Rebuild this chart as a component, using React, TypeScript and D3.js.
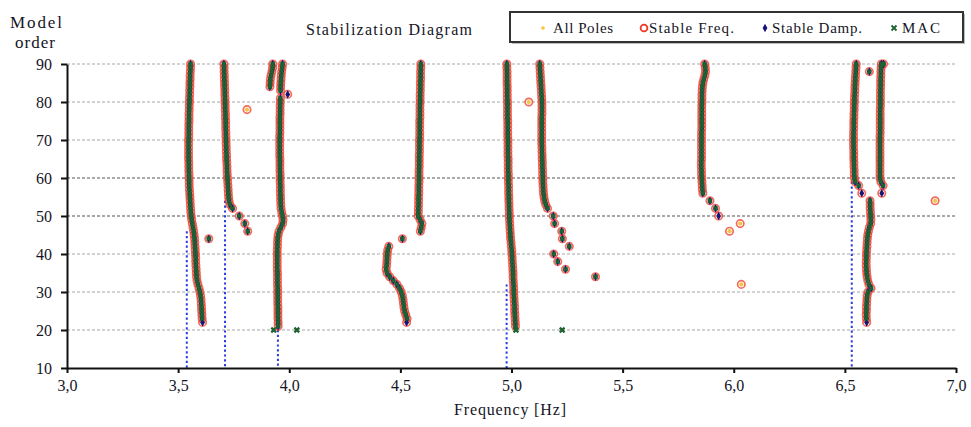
import React, { useEffect, useRef } from 'react';
import * as d3 from 'd3';

const W = 971;
const H = 427;

const xTicks = [3.0, 3.5, 4.0, 4.5, 5.0, 5.5, 6.0, 6.5, 7.0];
const yTicks = [10, 20, 30, 40, 50, 60, 70, 80, 90];

// stable poles (freq + damp + MAC), one value per model order, listed from the top order down
const colA = [
  3.556, 3.556, 3.555, 3.554, 3.554, 3.553, 3.553, 3.552, 3.552, 3.551,
  3.551, 3.550, 3.550, 3.549, 3.549, 3.549, 3.548, 3.548, 3.548, 3.548,
  3.547, 3.547, 3.547, 3.547, 3.547, 3.547, 3.548, 3.548, 3.548, 3.549,
  3.549, 3.550, 3.550, 3.551, 3.552, 3.553, 3.554, 3.555, 3.556, 3.557,
  3.559, 3.561, 3.564, 3.567, 3.570, 3.572, 3.574, 3.575, 3.576, 3.577,
  3.578, 3.579, 3.579, 3.580, 3.581, 3.582, 3.583, 3.585, 3.589, 3.594,
  3.598, 3.601, 3.603, 3.604, 3.605, 3.606, 3.607, 3.608,
];
const colB = [
  3.706, 3.707, 3.707, 3.708, 3.708, 3.709, 3.709, 3.710, 3.710, 3.711,
  3.711, 3.712, 3.712, 3.713, 3.713, 3.714, 3.714, 3.714, 3.715, 3.715,
  3.716, 3.716, 3.717, 3.717, 3.718, 3.718, 3.719, 3.720, 3.720, 3.721,
  3.722, 3.723, 3.724, 3.725, 3.726, 3.727, 3.729, 3.733,
];
const colC1 = [3.926, 3.925, 3.922, 3.918, 3.915, 3.914, 3.913];
const colC2 = [3.970, 3.968, 3.966, 3.964, 3.963, 3.962, 3.961, 3.961];
const colC3 = [
  3.960, 3.960, 3.959, 3.959, 3.959, 3.958, 3.958, 3.958, 3.958, 3.958,
  3.957, 3.957, 3.957, 3.957, 3.957, 3.957, 3.958, 3.958, 3.958, 3.958,
  3.959, 3.959, 3.959, 3.960, 3.960, 3.960, 3.961, 3.961, 3.962, 3.963,
  3.966, 3.970, 3.972, 3.970, 3.962, 3.954, 3.950, 3.948, 3.947, 3.947,
  3.946, 3.946, 3.946, 3.946, 3.946, 3.946, 3.947, 3.947, 3.947, 3.947,
  3.948, 3.948, 3.948, 3.948, 3.948, 3.949, 3.949, 3.949, 3.949, 3.950,
  3.950,
];
const colD = [
  4.592, 4.592, 4.591, 4.591, 4.591, 4.590, 4.590, 4.590, 4.589, 4.589,
  4.589, 4.588, 4.588, 4.588, 4.588, 4.587, 4.587, 4.587, 4.587, 4.587,
  4.586, 4.586, 4.586, 4.586, 4.585, 4.585, 4.585, 4.585, 4.584, 4.584,
  4.584, 4.584, 4.583, 4.583, 4.583, 4.582, 4.582, 4.582, 4.581, 4.581,
  4.580, 4.589, 4.597, 4.594, 4.590,
];
const colE = [
  4.448, 4.443, 4.441, 4.440, 4.439, 4.438, 4.436, 4.440, 4.452, 4.468,
  4.484, 4.496, 4.504, 4.509, 4.512, 4.514, 4.516, 4.519, 4.524, 4.530,
];
const colF = [
  4.979, 4.979, 4.980, 4.980, 4.980, 4.980, 4.981, 4.981, 4.981, 4.981,
  4.982, 4.982, 4.982, 4.982, 4.982, 4.983, 4.983, 4.983, 4.983, 4.983,
  4.984, 4.984, 4.984, 4.984, 4.984, 4.985, 4.985, 4.985, 4.985, 4.986,
  4.986, 4.986, 4.987, 4.987, 4.987, 4.988, 4.988, 4.989, 4.989, 4.990,
  4.990, 4.991, 4.992, 4.993, 4.994, 4.995, 4.996, 4.998, 4.999, 5.001,
  5.002, 5.003, 5.004, 5.005, 5.006, 5.007, 5.007, 5.008, 5.009, 5.010,
  5.010, 5.011, 5.012, 5.013, 5.014, 5.014, 5.015, 5.016, 5.017, 5.018,
];
const colG = [
  5.127, 5.128, 5.129, 5.130, 5.131, 5.132, 5.133, 5.134, 5.135, 5.136,
  5.137, 5.137, 5.137, 5.137, 5.136, 5.136, 5.136, 5.136, 5.136, 5.136,
  5.136, 5.136, 5.137, 5.137, 5.138, 5.138, 5.139, 5.139, 5.140, 5.140,
  5.141, 5.141, 5.142, 5.143, 5.144, 5.146, 5.149, 5.154,
];
const colH = [
  5.869, 5.872, 5.873, 5.870, 5.865, 5.861, 5.859, 5.858, 5.857, 5.857,
  5.857, 5.856, 5.856, 5.856, 5.856, 5.856, 5.856, 5.856, 5.855, 5.855,
  5.855, 5.855, 5.855, 5.855, 5.855, 5.855, 5.854, 5.854, 5.855, 5.855,
  5.856, 5.857, 5.858, 5.859, 5.861,
];
const colI1 = [
  6.551, 6.550, 6.549, 6.548, 6.547, 6.546, 6.545, 6.545, 6.544, 6.543,
  6.543, 6.542, 6.542, 6.541, 6.541, 6.540, 6.540, 6.540, 6.539, 6.539,
  6.539, 6.539, 6.539, 6.540, 6.540, 6.540, 6.541, 6.541, 6.542, 6.542,
  6.543, 6.546,
];
const colI2 = [
  6.613, 6.614, 6.614, 6.615, 6.616, 6.617, 6.616, 6.610, 6.606, 6.603,
  6.601, 6.600, 6.599, 6.598, 6.597, 6.597, 6.596, 6.596, 6.597, 6.598,
  6.600, 6.603, 6.608, 6.618, 6.604, 6.600, 6.599, 6.598, 6.597, 6.597,
  6.596, 6.597,
];
const colJ = [
  6.664, 6.663, 6.662, 6.662, 6.661, 6.661, 6.661, 6.660, 6.660, 6.660,
  6.660, 6.660, 6.659, 6.659, 6.659, 6.659, 6.659, 6.659, 6.659, 6.658,
  6.658, 6.658, 6.658, 6.658, 6.658, 6.658, 6.658, 6.658, 6.658, 6.658,
  6.658, 6.662,
];

// top model order of each column above
const columnTops = [90, 90, 90, 90, 81, 90, 42, 90, 90, 90, 90, 54, 90];
const columnFreqs = [colA, colB, colC1, colC2, colC3, colD, colE, colF, colG, colH, colI1, colI2, colJ];

// other fully stable poles [order, freq]
const stableExtra: [number, number][] = [
  [44, 3.638], [52, 3.745], [50, 3.775], [48, 3.800], [46, 3.813], [44, 4.509],
  [52, 5.162], [50, 5.188], [48, 5.194], [46, 5.226], [44, 5.229], [42, 5.260],
  [40, 5.190], [38, 5.208], [36, 5.243], [34, 5.378], [54, 5.893], [52, 5.918],
  [58, 6.562], [58, 6.672], [90, 6.674], [88, 6.610],
];
// stable in frequency and damping only
const dampPoles: [number, number][] = [
  [22, 3.610], [82, 3.993], [22, 4.528], [50, 5.932], [56, 6.576], [22, 6.598], [56, 6.666],
];
// stable in frequency only
const freqPoles: [number, number][] = [
  [78, 3.810], [80, 5.078], [48, 6.029], [46, 5.981], [32, 6.034], [54, 6.906],
];
// MAC only
const macPoles: [number, number][] = [
  [20, 3.930], [20, 4.034], [20, 5.020], [20, 5.228],
];

// identified modes (blue dashed lines) and the order they reach
const modeFreqs = [3.539, 3.711, 3.949, 4.978, 6.531];
const modeTops = [46, 54, 20, 32, 59];

const legendLabels = ['All Poles', 'Stable Freq.', 'Stable Damp.', 'MAC'];

const FONT = '"Liberation Serif", "Times New Roman", serif';
const INK = '#15151f';
const RED = '#f03828';
const NAVY = '#15157a';
const GREEN = '#1f6232';
const YELLOW = '#f7c440';

const x = d3.scaleLinear().domain([3, 7]).range([67, 956]);
const y = d3.scaleLinear().domain([10, 90]).range([368, 64]);

const colPoles: [number, number][] = columnFreqs.flatMap((f, i) =>
  f.map((v, k) => [columnTops[i] - k, v] as [number, number])
);
const fullStable = [...colPoles, ...stableExtra];
const ringPoles = [...fullStable, ...dampPoles, ...freqPoles];
const allPoles = [...ringPoles, ...macPoles];

const diamond = d3.symbol(d3.symbolDiamond, 20);

const cross = (cx: number, cy: number, s: number) =>
  `M${cx - s},${cy - s}L${cx + s},${cy + s}M${cx - s},${cy + s}L${cx + s},${cy - s}`;

const App = () => {
  const xAxisRef = useRef<SVGGElement>(null);
  const yAxisRef = useRef<SVGGElement>(null);

  useEffect(() => {
    const xa = d3.select(xAxisRef.current);
    xa.call(
      d3.axisBottom(x).tickValues(xTicks).tickSize(5).tickSizeOuter(0).tickPadding(7)
        .tickFormat((d) => (d as number).toFixed(1).replace('.', ','))
    );
    const ya = d3.select(yAxisRef.current);
    ya.call(d3.axisLeft(y).tickValues(yTicks).tickSize(6).tickSizeOuter(0).tickPadding(9));
    [xa, ya].forEach((g) => {
      g.select('.domain').attr('stroke', '#111').attr('stroke-width', 2);
      g.selectAll('.tick line').attr('stroke', '#111').attr('stroke-width', 2);
      g.selectAll('.tick text')
        .attr('fill', INK)
        .style('font-family', FONT)
        .style('font-size', '16px');
    });
  }, []);

  return (
    <div style={{ position: 'absolute', left: 0, top: 0 }}>
      <svg width={W} height={H} style={{ display: 'block', background: '#fff' }}>
        {/* grid */}
        {yTicks.filter((t) => t > 10).map((t) => (
          <line key={t} x1={x(3)} x2={x(7)} y1={y(t)} y2={y(t)}
            stroke={t === 50 || t === 60 ? '#555' : '#a8a8a8'} strokeWidth={1.2} strokeDasharray="3,2" />
        ))}

        {/* identified modes */}
        {modeFreqs.map((f, i) => (
          <line key={i} x1={x(f)} x2={x(f)} y1={y(modeTops[i])} y2={y(10)}
            stroke="#2a3be0" strokeWidth={2} strokeDasharray="2.2,2.6" />
        ))}

        {/* stable frequency rings */}
        {ringPoles.map(([o, f], i) => (
          <circle key={'r' + i} cx={x(f)} cy={y(o)} r={3.7} fill="none" stroke={RED} strokeWidth={1.7} strokeOpacity={0.75} />
        ))}
        {/* all poles */}
        {allPoles.map(([o, f], i) => (
          <circle key={'a' + i} cx={x(f)} cy={y(o)} r={2.1} fill={YELLOW} />
        ))}
        {/* stable damping */}
        {[...fullStable, ...dampPoles].map(([o, f], i) => (
          <path key={'d' + i} d={diamond() as string} transform={`translate(${x(f)},${y(o)})`} fill={NAVY} />
        ))}
        {/* MAC */}
        {fullStable.map(([o, f], i) => (
          <path key={'m' + i} d={cross(x(f), y(o), 2)} stroke={GREEN} strokeWidth={2} fill="none" />
        ))}
        {macPoles.map(([o, f], i) => (
          <path key={'mo' + i} d={cross(x(f), y(o), 2.4)} stroke={GREEN} strokeWidth={2.2} fill="none" />
        ))}

        <g ref={xAxisRef} transform={`translate(0,${y(10)})`} />
        <g ref={yAxisRef} transform={`translate(${x(3)},0)`} />

        {/* titles */}
        <text x={389} y={35} textAnchor="middle" fontFamily={FONT} fontSize={16} fill={INK} textLength={166}>
          Stabilization Diagram
        </text>
        <text x={36} y={28} textAnchor="middle" fontFamily={FONT} fontSize={17} fill={INK} textLength={52}>Model</text>
        <text x={35} y={48} textAnchor="middle" fontFamily={FONT} fontSize={17} fill={INK} textLength={40}>order</text>
        <text x={510} y={415} textAnchor="middle" fontFamily={FONT} fontSize={16} fill={INK} textLength={112}>
          Frequency [Hz]
        </text>

        {/* legend */}
        <rect x={512} y={14} width={453} height={30} fill="#bbb" />
        <rect x={510} y={12} width={453} height={30} fill="#fff" stroke="#333" strokeWidth={2} />
        <circle cx={543} cy={28} r={1.8} fill={YELLOW} />
        <circle cx={644} cy={28} r={3.4} fill="none" stroke={RED} strokeWidth={1.8} />
        <path d={diamond() as string} transform="translate(765,28)" fill={NAVY} />
        <path d={cross(894, 28, 2.5)} stroke={GREEN} strokeWidth={1.8} fill="none" />
        {legendLabels.map((l, i) => (
          <text key={l} x={[553, 649, 772, 902][i]} y={33} fontFamily={FONT} fontSize={15} fill={INK}
            textLength={[60, 85, 90, 38][i]}>
            {l}
          </text>
        ))}
      </svg>
    </div>
  );
};

export default App;
